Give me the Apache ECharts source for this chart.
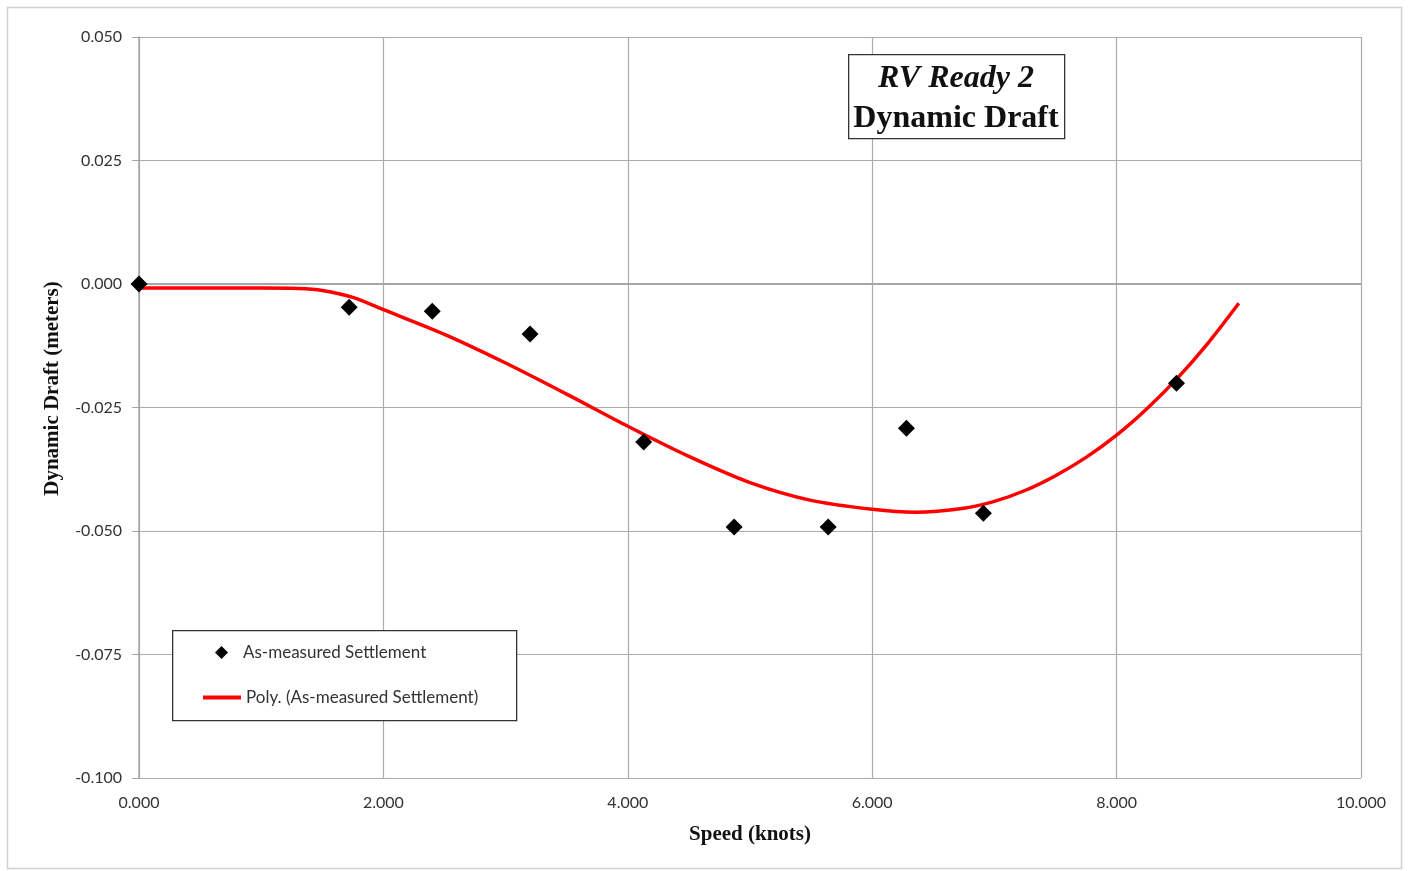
<!DOCTYPE html>
<html>
<head>
<meta charset="utf-8">
<script src="https://cdn.jsdelivr.net/npm/echarts@6/dist/echarts.min.js"></script>
<style>
html,body{margin:0;padding:0;background:#fff;}
#chart{width:1410px;height:871px;}
</style>
</head>
<body>
<div id="chart"></div>
<script>
// Measured points
var speedPts = [0.000, 1.72, 2.40, 3.20, 4.13, 4.87, 5.64, 6.28, 6.91, 8.49];
var draftPts = [0.000, -0.0047, -0.0055, -0.0101, -0.0320, -0.0492, -0.0492, -0.0292, -0.0464, -0.0201];

// Polynomial trendline as drawn
var trendX = [0, 0.5, 1.0, 1.3, 1.5, 1.75, 2.0, 2.5, 3.0, 3.5, 4.0, 4.5, 5.0, 5.5, 6.0, 6.35, 6.75, 7.0, 7.25, 7.5, 7.75, 8.0, 8.25, 8.5, 8.75, 9.0];
var trendY = [-0.0008, -0.0008, -0.0008, -0.0009, -0.0013, -0.0027, -0.0052, -0.0102, -0.0160, -0.0223, -0.0288, -0.0349, -0.0402, -0.0438, -0.0456, -0.0462, -0.0454, -0.0440, -0.0418, -0.0388, -0.0351, -0.0306, -0.0252, -0.0190, -0.0119, -0.0039];

var titleLine1 = 'RV Ready 2';
var titleLine2 = 'Dynamic Draft';
var xName = 'Speed (knots)';
var yName = 'Dynamic Draft (meters)';
var seriesNames = ['As-measured Settlement', 'Poly. (As-measured Settlement)'];

var scatterData = speedPts.map(function (x, i) { return [x, draftPts[i]]; });
var trendData = trendX.map(function (x, i) { return [x, trendY[i]]; });

var chart = echarts.init(document.getElementById('chart'), null, {renderer: 'canvas'});
var labelFont = 'Lato, "Open Sans", sans-serif';
var serif = '"Liberation Serif", "DejaVu Serif", serif';

chart.setOption({
  backgroundColor: '#ffffff',
  animation: false,
  graphic: [
    {type: 'rect', left: 5, top: 5, z: -10, shape: {width: 1394, height: 861},
     style: {fill: 'none', stroke: '#d0d0d0', lineWidth: 1.5}},
    {type: 'rect', left: 172, top: 630, z: 5, shape: {width: 344, height: 90},
     style: {fill: '#ffffff', stroke: '#333333', lineWidth: 1.3}},
    {type: 'rect', left: 848, top: 54, z: 5, shape: {width: 216, height: 84},
     style: {fill: '#ffffff', stroke: '#333333', lineWidth: 1.3}}
  ],
  title: {
    text: '{a|' + titleLine1 + '}\n{b|' + titleLine2 + '}',
    left: 848, top: 59,
    padding: 0,
    z: 8,
    textStyle: {
      rich: {
        a: {fontFamily: serif, fontStyle: 'italic', fontWeight: 'bold', fontSize: 32, lineHeight: 40, color: '#111', align: 'center', width: 216},
        b: {fontFamily: serif, fontWeight: 'bold', fontSize: 32, lineHeight: 40, color: '#111', align: 'center', width: 216}
      }
    }
  },
  legend: [
    {
      data: [{name: seriesNames[0], icon: 'diamond'}],
      left: 210, top: 639,
      itemWidth: 13, itemHeight: 13,
      z: 10,
      textStyle: {fontFamily: labelFont, fontSize: 17, color: '#333', padding: [0, 0, 0, 10]}
    },
    {
      data: [{name: seriesNames[1], icon: 'rect'}],
      left: 198, top: 684,
      itemWidth: 38, itemHeight: 4,
      z: 10,
      textStyle: {fontFamily: labelFont, fontSize: 17, color: '#333'}
    }
  ],
  grid: {left: 139, right: 49, top: 37, bottom: 93, containLabel: false, outerBoundsMode: 'none'},
  xAxis: {
    type: 'value', min: 0, max: 10, interval: 2,
    name: xName, nameLocation: 'middle', nameGap: 46,
    nameTextStyle: {fontFamily: serif, fontWeight: 'bold', fontSize: 21, color: '#111'},
    axisLine: {show: true, lineStyle: {color: '#a6a6a6', width: 2}},
    axisTick: {show: false},
    axisLabel: {fontFamily: labelFont, fontSize: 16, color: '#333', margin: 17,
      formatter: function (v) { return v.toFixed(3); }},
    splitLine: {show: true, lineStyle: {color: '#ababab', width: 1.2}}
  },
  yAxis: {
    type: 'value', min: -0.1, max: 0.05, interval: 0.025,
    name: yName, nameLocation: 'middle', nameGap: 76, nameRotate: 90,
    nameTextStyle: {fontFamily: serif, fontWeight: 'bold', fontSize: 21, color: '#111', padding: [0, 0, 0, 38]},
    axisLine: {show: true, lineStyle: {color: '#a6a6a6', width: 1.5}},
    axisTick: {show: true, inside: false, length: 7, lineStyle: {color: '#a6a6a6'}},
    axisLabel: {fontFamily: labelFont, fontSize: 16, color: '#333', margin: 17,
      formatter: function (v) { return (Math.abs(v) < 1e-9 ? 0 : v).toFixed(3); }},
    splitLine: {show: true, lineStyle: {color: '#ababab', width: 1.2}}
  },
  series: [
    {
      name: seriesNames[1],
      type: 'line',
      data: trendData,
      smooth: 0.3,
      showSymbol: false,
      symbol: 'none',
      lineStyle: {color: '#ff0000', width: 3.5},
      itemStyle: {color: '#ff0000'},
      z: 2
    },
    {
      name: seriesNames[0],
      type: 'scatter',
      data: scatterData,
      symbol: 'diamond',
      symbolSize: 17,
      itemStyle: {color: '#000000', opacity: 1},
      z: 3
    }
  ]
});
</script>
</body>
</html>
